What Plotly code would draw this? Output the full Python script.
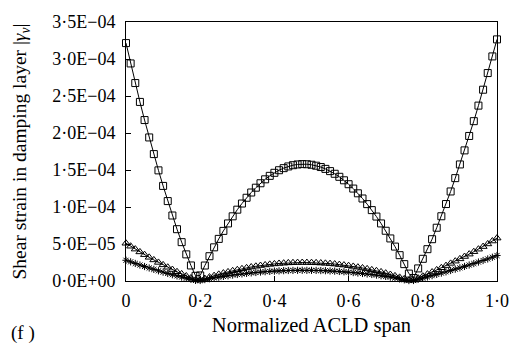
import plotly.graph_objects as go

SCALE = 1e-4  # values below are given in units of 1e-4

# normalized positions along the ACLD span (81 stations)
span = [i / 80 for i in range(81)]

strain_squares = [
    3.215, 2.94, 2.675, 2.42, 2.175, 1.94, 1.715, 1.495, 1.285, 1.08,
    0.885, 0.70, 0.525, 0.36, 0.21, 0.07, 0.075, 0.209, 0.335, 0.455,
    0.569, 0.677, 0.778, 0.874, 0.964, 1.047, 1.125, 1.196, 1.261, 1.321,
    1.374, 1.421, 1.462, 1.497, 1.525, 1.548, 1.565, 1.575, 1.58, 1.578,
    1.571, 1.558, 1.54, 1.515, 1.485, 1.449, 1.408, 1.361, 1.308, 1.249,
    1.185, 1.115, 1.039, 0.958, 0.871, 0.778, 0.679, 0.575, 0.465, 0.349,
    0.228, 0.10, 0.04, 0.17, 0.30, 0.43, 0.565, 0.72, 0.875, 1.04,
    1.21, 1.39, 1.575, 1.765, 1.96, 2.16, 2.37, 2.585, 2.81, 3.035,
    3.265,
]

strain_triangles = [
    0.51, 0.47, 0.431, 0.393, 0.356, 0.32, 0.285, 0.251, 0.218, 0.186,
    0.155, 0.125, 0.096, 0.068, 0.041, 0.015, 0.012, 0.033, 0.053, 0.072,
    0.090, 0.107, 0.123, 0.138, 0.152, 0.165, 0.178, 0.189, 0.199, 0.209,
    0.217, 0.225, 0.231, 0.237, 0.241, 0.245, 0.247, 0.249, 0.250, 0.249,
    0.248, 0.246, 0.243, 0.239, 0.235, 0.229, 0.222, 0.215, 0.207, 0.197,
    0.187, 0.176, 0.164, 0.151, 0.138, 0.123, 0.106, 0.088, 0.069, 0.049,
    0.029, 0.010, 0.012, 0.038, 0.065, 0.093, 0.121, 0.15, 0.179, 0.208,
    0.238, 0.268, 0.299, 0.331, 0.363, 0.396, 0.43, 0.465, 0.501, 0.54,
    0.58,
]

strain_crosses = [
    0.28, 0.259, 0.237, 0.216, 0.196, 0.176, 0.157, 0.138, 0.12, 0.102,
    0.085, 0.069, 0.053, 0.037, 0.023, 0.008, 0.007, 0.019, 0.031, 0.042,
    0.052, 0.062, 0.071, 0.08, 0.088, 0.096, 0.103, 0.11, 0.115, 0.121,
    0.126, 0.13, 0.134, 0.137, 0.14, 0.142, 0.143, 0.144, 0.145, 0.144,
    0.144, 0.143, 0.141, 0.139, 0.136, 0.133, 0.129, 0.125, 0.12, 0.114,
    0.108, 0.102, 0.095, 0.088, 0.08, 0.071, 0.062, 0.053, 0.04, 0.028,
    0.016, 0.006, 0.007, 0.023, 0.039, 0.055, 0.072, 0.089, 0.107, 0.124,
    0.142, 0.16, 0.178, 0.197, 0.216, 0.236, 0.256, 0.277, 0.298, 0.321,
    0.345,
]

x_tickvals = [0, 0.2, 0.4, 0.6, 0.8, 1.0]
x_ticktext = ["0", "0·2", "0·4", "0·6", "0·8", "1·0"]
y_tickvals = [0, 5e-5, 1e-4, 1.5e-4, 2e-4, 2.5e-4, 3e-4, 3.5e-4]
y_ticktext = ["0·0E+00", "5·0E−05", "1·0E−04", "1·5E−04",
              "2·0E−04", "2·5E−04", "3·0E−04", "3·5E−04"]

FONT = "Liberation Serif, Times New Roman, serif"

fig = go.Figure()


def add_series(values, symbol, size):
    fig.add_trace(go.Scatter(
        x=span,
        y=[v * SCALE for v in values],
        mode="lines+markers",
        line=dict(color="black", width=1),
        marker=dict(symbol=symbol, size=size, color="black",
                    line=dict(color="black", width=1)),
        cliponaxis=False,
        showlegend=False,
    ))


add_series(strain_crosses, "asterisk-open", 6)
add_series(strain_triangles, "triangle-up-open", 7)
add_series(strain_squares, "square-open", 7)

fig.update_layout(
    width=521, height=345,
    margin=dict(l=126, r=14, t=15, b=62),
    paper_bgcolor="white", plot_bgcolor="white",
    font=dict(family=FONT, size=18, color="black"),
    xaxis=dict(
        range=[0, 1], tickvals=x_tickvals, ticktext=x_ticktext,
        ticks="inside", ticklen=5, tickcolor="black", tickwidth=1,
        showline=True, linecolor="black", linewidth=1, mirror=True,
        showgrid=False, zeroline=False, ticklabelstandoff=3,
        title=dict(text="Normalized ACLD span", standoff=8,
                   font=dict(family=FONT, size=20.5)),
    ),
    yaxis=dict(
        range=[0, 3.5e-4], tickvals=y_tickvals, ticktext=y_ticktext,
        ticks="inside", ticklen=5, tickcolor="black", tickwidth=1,
        showline=True, linecolor="black", linewidth=1, mirror=True,
        showgrid=False, zeroline=False, ticklabelstandoff=6,
        title=dict(text="Shear strain in damping layer |<i>γ<sub>v</sub></i>|",
                   standoff=20, font=dict(family=FONT, size=19.5)),
    ),
    annotations=[dict(
        text="(f )", xref="paper", yref="paper", x=-0.315, y=-0.2,
        xanchor="left", yanchor="middle", showarrow=False,
        font=dict(family=FONT, size=19),
    )],
)

fig.write_html("out.html")
